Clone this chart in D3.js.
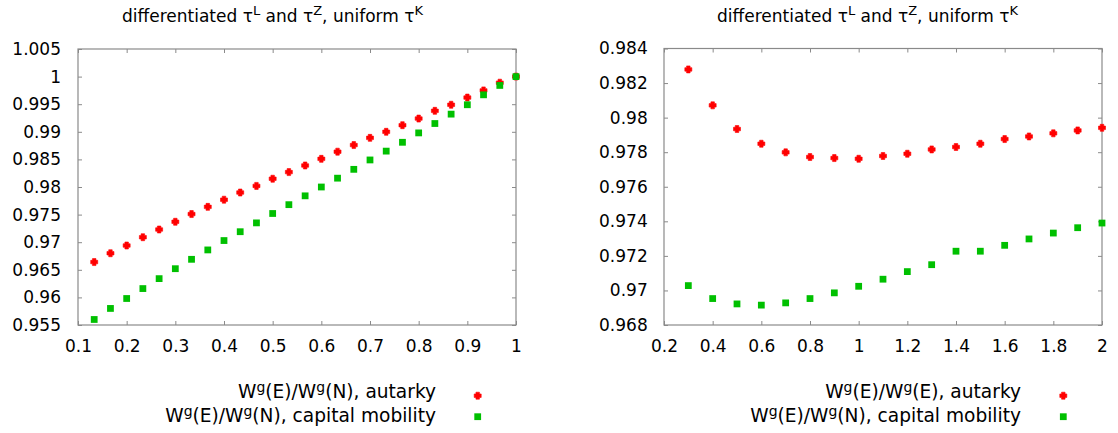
<!DOCTYPE html>
<html>
<head>
<meta charset="utf-8">
<script src="https://cdn.jsdelivr.net/npm/d3@7"></script>
<style>
  html, body { margin: 0; padding: 0; background: #fff; }
  svg { display: block; font-family: "DejaVu Sans", sans-serif; }
</style>
</head>
<body>
<svg id="chart" width="1118" height="433"></svg>
<script>
// ---------- data ----------
const leftX = [0.1333, 0.1667, 0.2, 0.2333, 0.2667, 0.3, 0.3333, 0.3667, 0.4, 0.4333, 0.4667, 0.5, 0.5333, 0.5667,
               0.6, 0.6333, 0.6667, 0.7, 0.7333, 0.7667, 0.8, 0.8333, 0.8667, 0.9, 0.9333, 0.9667, 1.0];
const leftAutarky = [0.9664, 0.9680, 0.9694, 0.9709, 0.9723, 0.9737, 0.9751, 0.9764, 0.9777, 0.9790, 0.9802, 0.9815, 0.9827,
                     0.9839, 0.9851, 0.9864, 0.9876, 0.9889, 0.9900, 0.9912, 0.9924, 0.9938, 0.9949, 0.9962, 0.9975, 0.9989, 1.0000];
const leftMobility = [0.9560, 0.9580, 0.9598, 0.9616, 0.9634, 0.9652, 0.9669, 0.9686, 0.9703, 0.9719, 0.9735, 0.9752, 0.9768,
                      0.9784, 0.9800, 0.9816, 0.9832, 0.9849, 0.9865, 0.9881, 0.9898, 0.9915, 0.9932, 0.9949, 0.9967, 0.9984, 1.0000];

const rightX = [0.3, 0.4, 0.5, 0.6, 0.7, 0.8, 0.9, 1.0, 1.1, 1.2, 1.3, 1.4, 1.5, 1.6, 1.7, 1.8, 1.9, 2.0];
const rightAutarky = [0.98279, 0.98071, 0.97934, 0.97849, 0.97799, 0.97772, 0.97766, 0.97762, 0.97778, 0.97791,
                      0.97816, 0.97830, 0.97849, 0.97876, 0.97891, 0.97909, 0.97926, 0.97941];
const rightMobility = [0.97028, 0.96953, 0.96922, 0.96915, 0.96928, 0.96953, 0.96986, 0.97024, 0.97065, 0.97109,
                       0.97149, 0.97227, 0.97227, 0.97261, 0.97298, 0.97332, 0.97363, 0.97390];

const leftXTicks = [0.1, 0.2, 0.3, 0.4, 0.5, 0.6, 0.7, 0.8, 0.9, 1.0];
const leftXLabels = ["0.1", "0.2", "0.3", "0.4", "0.5", "0.6", "0.7", "0.8", "0.9", "1"];
const leftYTicks = [0.955, 0.96, 0.965, 0.97, 0.975, 0.98, 0.985, 0.99, 0.995, 1.0, 1.005];
const leftYLabels = ["0.955", "0.96", "0.965", "0.97", "0.975", "0.98", "0.985", "0.99", "0.995", "1", "1.005"];
const rightXTicks = [0.2, 0.4, 0.6, 0.8, 1.0, 1.2, 1.4, 1.6, 1.8, 2.0];
const rightXLabels = ["0.2", "0.4", "0.6", "0.8", "1", "1.2", "1.4", "1.6", "1.8", "2"];
const rightYTicks = [0.968, 0.970, 0.972, 0.974, 0.976, 0.978, 0.980, 0.982, 0.984];
const rightYLabels = ["0.968", "0.97", "0.972", "0.974", "0.976", "0.978", "0.98", "0.982", "0.984"];

const leftLegend = ["(E)/W", "(N), autarky", "(E)/W", "(N), capital mobility"];
const rightLegend = ["(E)/W", "(E), autarky", "(E)/W", "(N), capital mobility"];

// ---------- drawing ----------
const svg = d3.select("#chart");
svg.append("rect").attr("width", 1118).attr("height", 433).attr("fill", "#fff");

const RED = "#ff0000", GREEN = "#00c000", FRAME = "#8a8a8a";
const FONT = 17, LEGFONT = 18.6, LEGSUP = 14;

const plusSymbol = {
  draw(ctx, size) {
    const r = Math.sqrt(size) / 2, a = r * 0.5;
    ctx.moveTo(-a, -r); ctx.lineTo(a, -r); ctx.lineTo(a, -a); ctx.lineTo(r, -a);
    ctx.lineTo(r, a); ctx.lineTo(a, a); ctx.lineTo(a, r); ctx.lineTo(-a, r);
    ctx.lineTo(-a, a); ctx.lineTo(-r, a); ctx.lineTo(-r, -a); ctx.lineTo(-a, -a);
    ctx.closePath();
  }
};
const redShape = d3.symbol().type(plusSymbol).size(49);
const greenShape = d3.symbol().type(d3.symbolSquare).size(46);

function panel(cfg) {
  const { left, right, top, bottom } = cfg;
  const x = d3.scaleLinear().domain(cfg.xDomain).range([left, right]);
  const y = d3.scaleLinear().domain(cfg.yDomain).range([bottom, top]);
  const g = svg.append("g");

  // axes
  const ax = g.append("g").attr("transform", `translate(0,${bottom})`)
    .call(d3.axisBottom(x).tickValues(cfg.xTicks).tickFormat((d, i) => cfg.xLabels[i])
      .tickSize(-4).tickSizeOuter(0).tickPadding(14.5));
  const axT = g.append("g").attr("transform", `translate(0,${top})`)
    .call(d3.axisTop(x).tickValues(cfg.xTicks).tickFormat("").tickSize(-4).tickSizeOuter(0));
  const ay = g.append("g").attr("transform", `translate(${left},0)`)
    .call(d3.axisLeft(y).tickValues(cfg.yTicks).tickFormat((d, i) => cfg.yLabels[i])
      .tickSize(-4).tickSizeOuter(0).tickPadding(cfg.yPad));
  const ayR = g.append("g").attr("transform", `translate(${right},0)`)
    .call(d3.axisRight(y).tickValues(cfg.yTicks).tickFormat("").tickSize(-4).tickSizeOuter(0));
  [ax, axT, ay, ayR].forEach(a => {
    a.select(".domain").remove();
    a.selectAll("line").attr("stroke", FRAME);
    a.selectAll("text").attr("fill", "#000").style("font-size", FONT + "px")
      .style("font-family", '"DejaVu Sans", sans-serif');
  });

  g.append("rect").attr("x", left).attr("y", top).attr("width", right - left).attr("height", bottom - top)
    .attr("fill", "none").attr("stroke", FRAME).attr("stroke-width", 1.2);

  // points
  g.append("g").selectAll("path").data(cfg.xs.map((d, i) => [d, cfg.a[i]])).join("path")
    .attr("d", redShape).attr("transform", d => `translate(${x(d[0])},${y(d[1])})`)
    .attr("fill", RED).attr("stroke", RED).attr("stroke-width", 0.6).attr("stroke-linejoin", "round");
  g.append("g").selectAll("path").data(cfg.xs.map((d, i) => [d, cfg.m[i]])).join("path")
    .attr("d", greenShape).attr("transform", d => `translate(${x(d[0])},${y(d[1])})`)
    .attr("fill", GREEN);

  // title
  const t = g.append("text").attr("x", cfg.titleX).attr("y", 22).style("font-size", FONT + "px").attr("fill", "#000");
  t.append("tspan").text("differentiated τ");
  t.append("tspan").attr("dy", -7).style("font-size", "13px").text("L");
  t.append("tspan").attr("dy", 7).text(" and τ");
  t.append("tspan").attr("dy", -7).style("font-size", "13px").text("Z");
  t.append("tspan").attr("dy", 7).text(", uniform τ");
  t.append("tspan").attr("dy", -7).style("font-size", "13px").text("K");

  // legend
  const rows = [[cfg.legend[0], cfg.legend[1], 398, "a"], [cfg.legend[2], cfg.legend[3], 422, "m"]];
  rows.forEach(([p1, p2, yy, kind]) => {
    const tt = g.append("text").attr("x", cfg.legendTextX).attr("y", yy).attr("text-anchor", "end")
      .style("font-size", LEGFONT + "px").attr("fill", "#000");
    tt.append("tspan").text("W");
    tt.append("tspan").attr("dy", -6).style("font-size", LEGSUP + "px").text("g");
    tt.append("tspan").attr("dy", 6).text(p1 + "");
    tt.append("tspan").attr("dy", -6).style("font-size", LEGSUP + "px").text("g");
    tt.append("tspan").attr("dy", 6).text(p2);
    g.append("path").attr("d", kind === "a" ? redShape : greenShape)
      .attr("transform", `translate(${cfg.legendMarkX},${kind === "a" ? 395.7 : 416.7})`)
      .attr("fill", kind === "a" ? RED : GREEN)
      .attr("stroke", kind === "a" ? RED : "none").attr("stroke-width", 0.6);
  });
}

panel({
  left: 78, right: 516, top: 49, bottom: 325,
  xDomain: [0.1, 1.0], yDomain: [0.955, 1.005],
  xTicks: leftXTicks, xLabels: leftXLabels, yTicks: leftYTicks, yLabels: leftYLabels, yPad: 17,
  xs: leftX, a: leftAutarky, m: leftMobility,
  titleX: 122, legend: leftLegend, legendTextX: 436, legendMarkX: 477.7
});
panel({
  left: 664, right: 1102, top: 48.5, bottom: 325,
  xDomain: [0.2, 2.0], yDomain: [0.968, 0.984],
  xTicks: rightXTicks, xLabels: rightXLabels, yTicks: rightYTicks, yLabels: rightYLabels, yPad: 16.3,
  xs: rightX, a: rightAutarky, m: rightMobility,
  titleX: 717, legend: rightLegend, legendTextX: 1021, legendMarkX: 1063.3
});
</script>
</body>
</html>
